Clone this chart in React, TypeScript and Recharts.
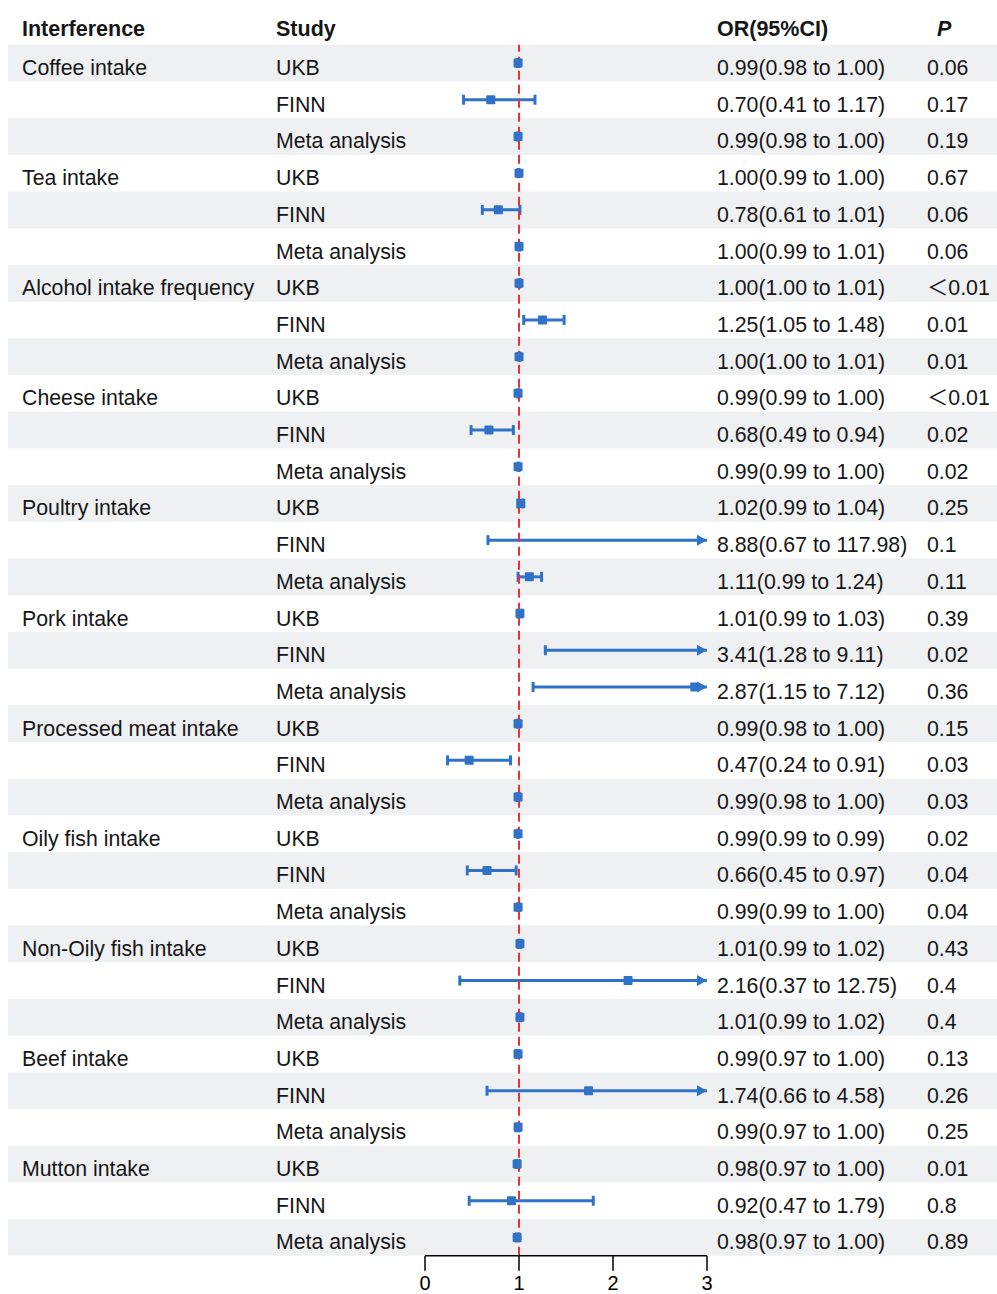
import React from 'react';
import { ScatterChart, Scatter, XAxis, YAxis, ErrorBar, ReferenceLine } from 'recharts';

const exposures = [
  'Coffee intake',
  'Tea intake',
  'Alcohol intake frequency',
  'Cheese intake',
  'Poultry intake',
  'Pork intake',
  'Processed meat intake',
  'Oily fish intake',
  'Non-Oily fish intake',
  'Beef intake',
  'Mutton intake',
];
const studies = ['UKB', 'FINN', 'Meta analysis'];

const orValues = [
  0.99, 0.70, 0.99, 1.00, 0.78, 1.00, 1.00, 1.25, 1.00, 0.99, 0.68, 0.99,
  1.02, 8.88, 1.11, 1.01, 3.41, 2.87, 0.99, 0.47, 0.99, 0.99, 0.66, 0.99,
  1.01, 2.16, 1.01, 0.99, 1.74, 0.99, 0.98, 0.92, 0.98,
];
const lowerCI = [
  0.98, 0.41, 0.98, 0.99, 0.61, 0.99, 1.00, 1.05, 1.00, 0.99, 0.49, 0.99,
  0.99, 0.67, 0.99, 0.99, 1.28, 1.15, 0.98, 0.24, 0.98, 0.99, 0.45, 0.99,
  0.99, 0.37, 0.99, 0.97, 0.66, 0.97, 0.97, 0.47, 0.97,
];
const upperCI = [
  1.00, 1.17, 1.00, 1.00, 1.01, 1.01, 1.01, 1.48, 1.01, 1.00, 0.94, 1.00,
  1.04, 117.98, 1.24, 1.03, 9.11, 7.12, 1.00, 0.91, 1.00, 0.99, 0.97, 1.00,
  1.02, 12.75, 1.02, 1.00, 4.58, 1.00, 1.00, 1.79, 1.00,
];
const pValues = [
  '0.06', '0.17', '0.19', '0.67', '0.06', '0.06', '＜0.01', '0.01', '0.01',
  '＜0.01', '0.02', '0.02', '0.25', '0.1', '0.11', '0.39', '0.02', '0.36',
  '0.15', '0.03', '0.03', '0.02', '0.04', '0.04', '0.43', '0.4', '0.4',
  '0.13', '0.26', '0.25', '0.01', '0.8', '0.89',
];
const xTicks = [0, 1, 2, 3];

const W = 997;
const H = 1294;
const PLOT_LEFT = 425;
const PLOT_RIGHT = 707;
const PLOT_TOP = 44.7;
const ROW_H = 36.7;
const X_AXIS_H = 30;
const Y_AXIS_W = 2;
const FONT = '"Liberation Sans", Arial, sans-serif';
const CJK_FONT = '"Noto Sans CJK SC", sans-serif';
const BLUE = '#2f72c8';
const BAND = '#eef0f2';
const TEXT = '#161616';

const X_MAX = xTicks[xTicks.length - 1];

const rows = orValues.map((or, i) => ({
  row: i + 1,
  exposure: i % 3 === 0 ? exposures[i / 3] : '',
  study: studies[i % 3],
  or,
  low: lowerCI[i],
  high: upperCI[i],
  label: `${or.toFixed(2)}(${lowerCI[i].toFixed(2)} to ${upperCI[i].toFixed(2)})`,
  p: pValues[i],
}));

// CIs that fit in the axis get caps on both ends, the rest end in an arrow at X_MAX
const closedCI = rows
  .filter((r) => r.high <= X_MAX)
  .map((r) => ({ x: r.low, y: r.row, err: [0, r.high - r.low] }));
const openCI = rows
  .filter((r) => r.high > X_MAX)
  .map((r) => ({ x: r.low, y: r.row, err: [0, X_MAX - r.low] }));
const arrows = rows.filter((r) => r.high > X_MAX).map((r) => ({ x: X_MAX, y: r.row }));
const points = rows.filter((r) => r.or <= X_MAX).map((r) => ({ x: r.or, y: r.row }));

const plotBottom = PLOT_TOP + rows.length * ROW_H;

// the "＜" is a full-width sign, Liberation Sans has no glyph for it
function renderP(p: string) {
  if (p.startsWith('＜')) {
    return (
      <>
        <tspan fontFamily={CJK_FONT}>＜</tspan>
        {p.slice(1)}
      </>
    );
  }
  return p;
}

function renderRowLabels(props: any) {
  const { y, payload } = props;
  const r = rows.find((d) => d.row === Number(payload.value));
  if (!r) return <g />;
  const base = y + 12;
  return (
    <g>
      <text x={22} y={base} fontFamily={FONT} fontSize={21.3} fill={TEXT}>{r.exposure}</text>
      <text x={276} y={base} fontFamily={FONT} fontSize={21.3} fill={TEXT}>{r.study}</text>
      <text x={717} y={base} fontFamily={FONT} fontSize={21.3} fill={TEXT}>{r.label}</text>
      <text x={927} y={base} fontFamily={FONT} fontSize={21.3} fill={TEXT}>{renderP(r.p)}</text>
    </g>
  );
}

const Square = (p: any) => <rect x={p.cx - 4.5} y={p.cy - 4.5} width={9} height={9} rx={1} fill={BLUE} />;
const Cap = (p: any) => (
  <line x1={p.cx} x2={p.cx} y1={p.cy - 5} y2={p.cy + 5} stroke={BLUE} strokeWidth={3} />
);
const Arrow = (p: any) => (
  <path d={`M${p.cx},${p.cy} L${p.cx - 10},${p.cy - 5.5} L${p.cx - 10},${p.cy + 5.5} Z`} fill={BLUE} />
);
const Empty = () => <g />;

export default function App() {
  return (
    <div style={{ position: 'absolute', left: 0, top: 0, width: W, height: H, background: '#fff' }}>
      <svg width={W} height={H} style={{ position: 'absolute', left: 0, top: 0 }}>
        {rows
          .filter((r) => r.row % 2 === 1)
          .map((r) => (
            <rect key={r.row} x={8} y={PLOT_TOP + (r.row - 1) * ROW_H} width={W - 8} height={ROW_H} fill={BAND} />
          ))}
        <g fontFamily={FONT} fontSize={21.5} fontWeight="bold" fill={TEXT}>
          <text x={22} y={36}>Interference</text>
          <text x={276} y={36}>Study</text>
          <text x={717} y={36}>OR(95%CI)</text>
          <text x={937} y={36} fontStyle="italic">P</text>
        </g>
      </svg>
      <div style={{ position: 'absolute', left: 0, top: 0 }}>
        <ScatterChart
          width={W}
          height={H}
          margin={{
            top: PLOT_TOP,
            right: W - PLOT_RIGHT,
            bottom: H - plotBottom - X_AXIS_H,
            left: PLOT_LEFT - Y_AXIS_W,
          }}
        >
          <XAxis
            type="number"
            dataKey="x"
            domain={[0, X_MAX]}
            ticks={xTicks}
            allowDataOverflow
            height={X_AXIS_H}
            tickSize={15}
            tickMargin={5}
            axisLine={{ stroke: '#000', strokeWidth: 1.5 }}
            tickLine={{ stroke: '#000', strokeWidth: 1.5 }}
            tick={{ fill: '#000', fontSize: 20, fontFamily: FONT }}
          />
          <YAxis
            type="number"
            dataKey="y"
            domain={[0.5, rows.length + 0.5]}
            ticks={rows.map((r) => r.row)}
            interval={0}
            reversed
            allowDataOverflow
            width={Y_AXIS_W}
            axisLine={false}
            tickLine={false}
            tick={renderRowLabels}
          />
          <Scatter data={closedCI} shape={Empty} isAnimationActive={false}>
            <ErrorBar dataKey="err" direction="x" width={5} stroke={BLUE} strokeWidth={3} />
          </Scatter>
          <Scatter data={openCI} shape={Cap} isAnimationActive={false}>
            <ErrorBar dataKey="err" direction="x" width={0} stroke={BLUE} strokeWidth={3} />
          </Scatter>
          <Scatter data={arrows} shape={Arrow} isAnimationActive={false} />
          <Scatter data={points} shape={Square} isAnimationActive={false} />
          <ReferenceLine x={1} stroke="#f03030" strokeWidth={2} strokeDasharray="9 5" />
        </ScatterChart>
      </div>
    </div>
  );
}
